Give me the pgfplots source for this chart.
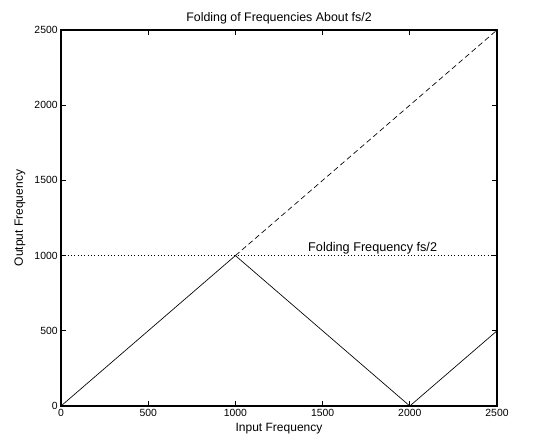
\documentclass[border=0pt]{standalone}
\usepackage{pgfplots}
\pgfplotsset{compat=1.18}
\usepackage{fontspec}
\setmainfont{Liberation Sans}
\begin{document}
\begin{tikzpicture}[x=0.75pt,y=0.75pt]
\path[use as bounding box] (-61,-28) rectangle (498,406);
\begin{axis}[
  at={(0,0)}, anchor=south west,
  scale only axis,
  width=327pt, height=282pt,
  xmin=0, xmax=2500, ymin=0, ymax=2500,
  xtick={0,500,...,2500}, ytick={0,500,...,2500},
  tick align=inside, xtick pos=both, ytick pos=both,
  major tick length=3.75pt,
  axis line style={line width=0.9pt},
  every tick/.style={black, line width=0.6pt},
  /pgf/number format/assume math mode=true,
  /pgf/number format/1000 sep={},
  tick label style={font=\fontsize{7.8}{8}\selectfont},
  xticklabel style={yshift=1pt},
  yticklabel style={xshift=1pt},
  title={Folding of Frequencies About fs/2},
  title style={font=\fontsize{9.3}{10}\selectfont, yshift=-5pt},
  xlabel={Input Frequency},
  ylabel={Output Frequency},
  label style={font=\fontsize{9}{10}\selectfont},
  xlabel style={yshift=2pt},
  ylabel style={yshift=0pt},
  clip=false,
]
% folded output frequency
\addplot[black, line width=0.5pt] coordinates {(0,0) (1000,1000) (2000,0) (2500,500)};
% unfolded continuation above fs/2
\addplot[black, line width=0.5pt, dash pattern=on 4pt off 2.5pt] coordinates {(1000,1000) (2500,2500)};
% folding frequency
\addplot[black, line width=0.5pt, dash pattern=on 0.5pt off 2pt] coordinates {(0,1000) (2500,1000)};
\node[anchor=base west, font=\fontsize{9.5}{10}\selectfont, inner sep=0pt] at (axis cs:1416,1028) {Folding Frequency fs/2};
\end{axis}
\end{tikzpicture}
\end{document}
